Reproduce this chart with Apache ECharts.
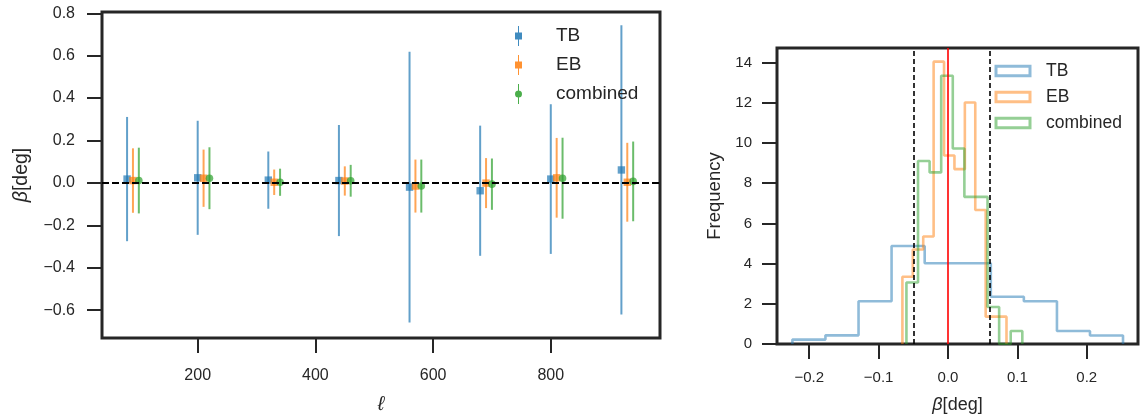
<!DOCTYPE html>
<html><head><meta charset="utf-8">
<script src="https://cdn.jsdelivr.net/npm/echarts@6/dist/echarts.min.js"></script>
<style>html,body{margin:0;padding:0;background:#fff}#c{width:1142px;height:419px}</style>
</head><body><div id="c"></div>
<script>
// ---- left panel: beta per multipole bin ----
const tbEll   = [80, 200, 320, 440, 560, 680, 800, 920];
const ebEll   = [90, 210, 330, 450, 570, 690, 810, 930];
const combEll = [100, 220, 340, 460, 580, 700, 820, 940];
const tbBeta   = [0.018, 0.024, 0.013, 0.011, -0.020, -0.037, 0.018, 0.061];
const tbErr    = [0.293, 0.269, 0.135, 0.262, 0.639, 0.307, 0.353, 0.682];
const ebBeta   = [0.011, 0.022, 0.003, 0.009, -0.015, -0.001, 0.024, 0.003];
const ebErr    = [0.152, 0.135, 0.060, 0.069, 0.125, 0.118, 0.188, 0.186];
const combBeta = [0.011, 0.022, 0.003, 0.010, -0.015, -0.006, 0.022, 0.007];
const combErr  = [0.155, 0.146, 0.064, 0.075, 0.125, 0.121, 0.191, 0.188];
const leftXTicks = [200, 400, 600, 800];
const leftYTicks = [-0.6, -0.4, -0.2, 0.0, 0.2, 0.4, 0.6, 0.8];

// ---- right panel: histograms (density) ----
const tbEdges = [-0.2242, -0.1766, -0.1289, -0.0813, -0.0336, 0.0140, 0.0617, 0.1093, 0.1570, 0.2046, 0.2522];
const tbFreq  = [0.22, 0.43, 2.13, 4.88, 4.02, 4.02, 2.35, 2.13, 0.65, 0.42];
const ebEdges = [-0.0657, -0.0507, -0.0357, -0.0207, -0.0057, 0.0093, 0.0243, 0.0393, 0.0543, 0.0693, 0.0843];
const ebFreq  = [3.35, 4.70, 5.35, 14.05, 9.38, 8.70, 12.02, 6.67, 1.36, 1.36];
const combEdges = [-0.0599, -0.0432, -0.0265, -0.0098, 0.0069, 0.0236, 0.0403, 0.0570, 0.0737, 0.0904, 0.1071];
const combFreq  = [3.06, 9.11, 8.54, 13.35, 9.73, 7.32, 7.32, 1.84, 0.00, 0.65];
const sigmaLines = [-0.052, 0.058];
const zeroLine = 0;
const rightXTicks = [-0.2, -0.1, 0.0, 0.1, 0.2];
const rightYTicks = [0, 2, 4, 6, 8, 10, 12, 14];

const C_TB = '#1f77b4', C_EB = '#ff7f0e', C_CB = '#2ca02c';
const TXT = '#262626';
const FONT = 'Liberation Sans, Arial, sans-serif';

function errData(xs, ys, es) { return xs.map((x, i) => [x, ys[i], es[i]]); }
function stepPoints(edges, freq) {
  const pts = [[edges[0], 0]];
  for (let i = 0; i < freq.length; i++) { pts.push([edges[i], freq[i]]); pts.push([edges[i + 1], freq[i]]); }
  pts.push([edges[edges.length - 1], 0]);
  return pts;
}
function errRender(color, shape) {
  return function (params, api) {
    const x = api.value(0), y = api.value(1), e = api.value(2);
    const t = api.coord([x, y + e]), b = api.coord([x, y - e]), c = api.coord([x, y]);
    const marker = shape === 'circle'
      ? { type: 'circle', shape: { cx: c[0], cy: c[1], r: 3.8 }, style: { fill: color, opacity: 0.7 } }
      : { type: 'rect', shape: { x: c[0] - 3.7, y: c[1] - 3.7, width: 7.4, height: 7.4 }, style: { fill: color, opacity: 0.7 } };
    return { type: 'group', children: [
      { type: 'line', shape: { x1: t[0], y1: t[1], x2: b[0], y2: b[1] }, style: { stroke: color, lineWidth: 2, opacity: 0.7 } },
      marker
    ] };
  };
}
const fmt = v => (Math.abs(v) < 1e-9 ? '0.0' : v.toFixed(1)).replace('-', '\u2212');

const sqIcon = 'path://M3,0 L4,0 L4,20 L3,20 Z M0,6.5 L7,6.5 L7,13.5 L0,13.5 Z';
const ciIcon = 'path://M3,0 L4,0 L4,20 L3,20 Z M0,10 A3.5,3.5 0 1 1 7,10 A3.5,3.5 0 1 1 0,10 Z';

const tickStyle = { color: TXT, width: 2 };
const noLine = { show: false, onZero: false };
const chart = echarts.init(document.getElementById('c'), null, { renderer: 'canvas' });
chart.setOption({
  animation: false,
  backgroundColor: '#fff',
  textStyle: { fontFamily: FONT, color: TXT },
  grid: [
    { left: 102, right: 482, top: 12, bottom: 76, show: true, borderColor: TXT, borderWidth: 3, backgroundColor: 'transparent' },
    { left: 777, right: 4, top: 48, bottom: 69, show: true, borderColor: TXT, borderWidth: 3, backgroundColor: 'transparent' }
  ],
  legend: [
    { orient: 'vertical', left: 515, top: 26, padding: 0, itemWidth: 7, itemHeight: 20, itemGap: 9,
      textStyle: { fontSize: 19, color: TXT, fontFamily: FONT, padding: [0, 0, 0, 29] },
      data: [
        { name: 'TB', icon: sqIcon, itemStyle: { color: C_TB, opacity: 0.85 } },
        { name: 'EB', icon: sqIcon, itemStyle: { color: C_EB, opacity: 0.85 } },
        { name: 'combined', icon: ciIcon, itemStyle: { color: C_CB, opacity: 0.85 } }
      ] },
    { orient: 'vertical', left: 994.5, top: 61, padding: 0, itemWidth: 34, itemHeight: 9.5, itemGap: 6,
      textStyle: { fontSize: 17.5, lineHeight: 20, color: TXT, fontFamily: FONT, padding: [0, 0, 0, 11] },
      data: [
        { name: 'TB', icon: 'rect', itemStyle: { color: 'rgba(0,0,0,0)', borderColor: 'rgba(31,119,180,0.5)', borderWidth: 3, opacity: 1 } },
        { name: 'EB', icon: 'rect', itemStyle: { color: 'rgba(0,0,0,0)', borderColor: 'rgba(255,127,14,0.5)', borderWidth: 3, opacity: 1 } },
        { name: 'combined', icon: 'rect', itemStyle: { color: 'rgba(0,0,0,0)', borderColor: 'rgba(44,160,44,0.5)', borderWidth: 3, opacity: 1 } }
      ] }
  ],
  xAxis: [
    { type: 'value', gridIndex: 0, min: 37.4, max: 985.6,
      splitLine: { show: false }, axisLine: noLine,
      axisTick: { show: true, length: 15, lineStyle: tickStyle, customValues: leftXTicks },
      axisLabel: { customValues: leftXTicks, margin: 30, fontSize: 16, color: TXT, fontFamily: FONT },
      name: 'ℓ', nameLocation: 'middle', nameGap: 56,
      nameTextStyle: { fontStyle: 'italic', fontSize: 20, color: TXT, fontFamily: FONT } },
    { type: 'value', gridIndex: 1, min: -0.2464, max: 0.2738,
      splitLine: { show: false }, axisLine: noLine,
      axisTick: { show: true, length: 15, lineStyle: tickStyle, customValues: rightXTicks },
      axisLabel: { customValues: rightXTicks, margin: 26, fontSize: 15, color: TXT, fontFamily: FONT, formatter: fmt },
      name: '{i|β}[deg]', nameLocation: 'middle', nameGap: 52,
      nameTextStyle: { fontSize: 18, color: TXT, fontFamily: FONT, rich: { i: { fontStyle: 'italic', fontSize: 18, fontFamily: FONT, color: TXT } } } }
  ],
  yAxis: [
    { type: 'value', gridIndex: 0, min: -0.7316, max: 0.806,
      splitLine: { show: false }, axisLine: noLine,
      axisTick: { show: true, length: 15, lineStyle: tickStyle, customValues: leftYTicks },
      axisLabel: { customValues: leftYTicks, margin: 27, fontSize: 16, color: TXT, fontFamily: FONT, formatter: fmt },
      name: '{i|β}[deg]', nameLocation: 'middle', nameGap: 70, nameRotate: 90,
      nameTextStyle: { fontSize: 19.5, color: TXT, fontFamily: FONT, rich: { i: { fontStyle: 'italic', fontSize: 19.5, fontFamily: FONT, color: TXT } } } },
    { type: 'value', gridIndex: 1, min: 0, max: 14.73,
      splitLine: { show: false }, axisLine: noLine,
      axisTick: { show: true, length: 15, lineStyle: tickStyle, customValues: rightYTicks },
      axisLabel: { customValues: rightYTicks, margin: 25, fontSize: 15, color: TXT, fontFamily: FONT },
      name: 'Frequency', nameLocation: 'middle', nameGap: 53, nameRotate: 90,
      nameTextStyle: { fontSize: 18.5, color: TXT, fontFamily: FONT } }
  ],
  series: [
    { name: 'zero', type: 'line', xAxisIndex: 0, yAxisIndex: 0, data: [], silent: true, z: 1,
      markLine: { silent: true, symbol: 'none', label: { show: false },
        lineStyle: { color: '#000', type: [7, 3], width: 2 }, data: [{ yAxis: 0 }] } },
    { name: 'TB', type: 'custom', xAxisIndex: 0, yAxisIndex: 0, itemStyle: { color: C_TB }, z: 2,
      renderItem: errRender(C_TB, 'square'), data: errData(tbEll, tbBeta, tbErr) },
    { name: 'EB', type: 'custom', xAxisIndex: 0, yAxisIndex: 0, itemStyle: { color: C_EB }, z: 3,
      renderItem: errRender(C_EB, 'square'), data: errData(ebEll, ebBeta, ebErr) },
    { name: 'combined', type: 'custom', xAxisIndex: 0, yAxisIndex: 0, itemStyle: { color: C_CB }, z: 4,
      renderItem: errRender(C_CB, 'circle'), data: errData(combEll, combBeta, combErr) },

    { name: 'TB', type: 'line', xAxisIndex: 1, yAxisIndex: 1, showSymbol: false, symbol: 'none', z: 2,
      lineStyle: { color: 'rgba(31,119,180,0.5)', width: 2.6 }, itemStyle: { color: C_TB },
      data: stepPoints(tbEdges, tbFreq) },
    { name: 'EB', type: 'line', xAxisIndex: 1, yAxisIndex: 1, showSymbol: false, symbol: 'none', z: 3,
      lineStyle: { color: 'rgba(255,127,14,0.5)', width: 2.6 }, itemStyle: { color: C_EB },
      data: stepPoints(ebEdges, ebFreq) },
    { name: 'combined', type: 'line', xAxisIndex: 1, yAxisIndex: 1, showSymbol: false, symbol: 'none', z: 4,
      lineStyle: { color: 'rgba(44,160,44,0.5)', width: 2.6 }, itemStyle: { color: C_CB },
      data: stepPoints(combEdges, combFreq) },
    { name: 'refs', type: 'line', xAxisIndex: 1, yAxisIndex: 1, data: [], silent: true, z: 6,
      markLine: { silent: true, symbol: 'none', label: { show: false },
        data: [
          { xAxis: sigmaLines[0], lineStyle: { color: '#000', type: [5, 3], width: 1.6 } },
          { xAxis: sigmaLines[1], lineStyle: { color: '#000', type: [5, 3], width: 1.6 } },
          { xAxis: zeroLine, lineStyle: { color: '#ff0000', type: 'solid', width: 1.6 } }
        ] } }
  ]
});
</script></body></html>
